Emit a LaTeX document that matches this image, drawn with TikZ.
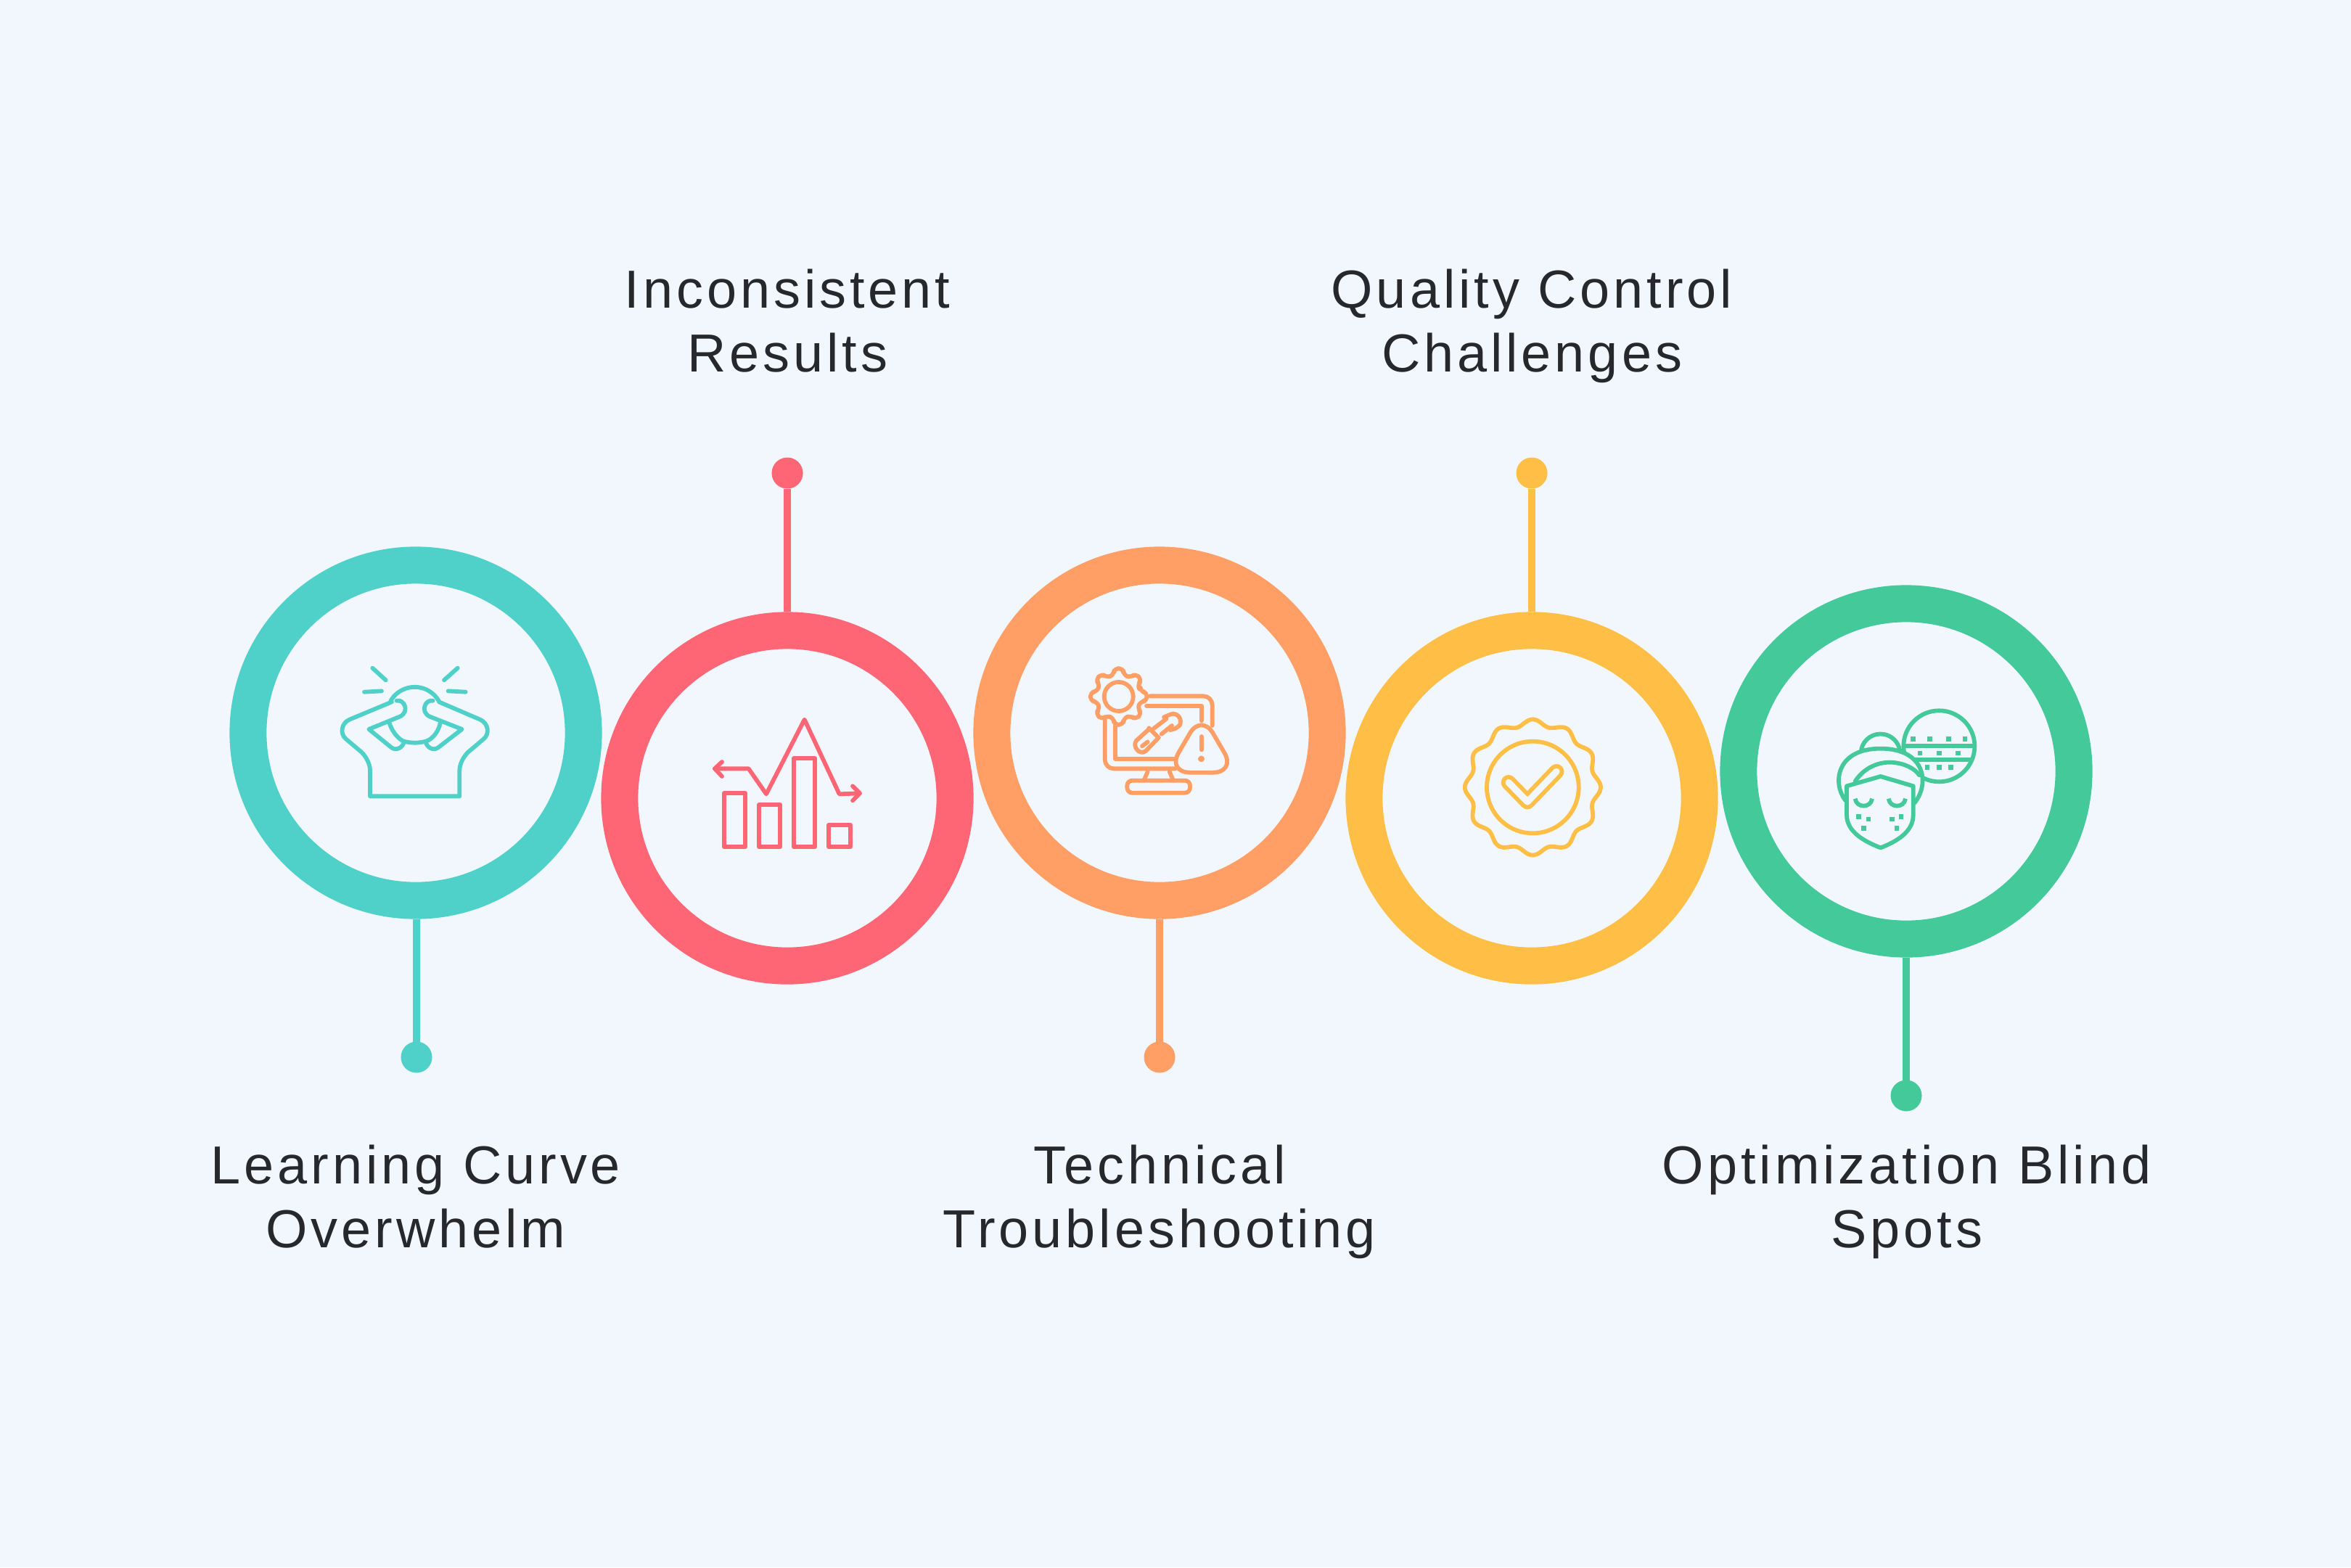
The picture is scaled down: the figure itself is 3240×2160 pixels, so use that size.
\documentclass[tikz,border=0pt]{standalone}
\usepackage{fontspec}
\setmainfont[LetterSpace=6.7]{Liberation Sans}
\definecolor{bgc}{HTML}{F2F7FE}
\definecolor{cteal}{HTML}{4FD1CA}
\definecolor{cred}{HTML}{FF6675}
\definecolor{corange}{HTML}{FF9F66}
\definecolor{cyellow}{HTML}{FFBE45}
\definecolor{cgreen}{HTML}{43C99A}
\definecolor{ctext}{HTML}{26282B}
\tikzset{
 ringnode/.style={circle,draw=#1,line width=14.5pt,minimum size=4.62cm,inner sep=0pt},
 dotnode/.style={circle,fill=#1,minimum size=0.43cm,inner sep=0pt,outer sep=0pt},
 stem/.style={draw=#1,line width=3pt},
 lbl/.style={align=center,text=ctext,font=\fontsize{21}{24.9}\selectfont},
 ico/.style={draw=#1,line width=1.65pt,line cap=round,line join=round},
 zoomed/.style={shift={#1},scale=1/3}
}
\begin{document}
\begin{tikzpicture}[x=0.01cm,y=-0.01cm]
\useasboundingbox[fill=bgc] (0,0) rectangle (3240,2160);
% rings
\node[ringnode=cteal] (r1) at (573,1010) {};
\node[ringnode=cred] (r2) at (1085,1100) {};
\node[ringnode=corange] (r3) at (1598,1010) {};
\node[ringnode=cyellow] (r4) at (2111,1100) {};
\node[ringnode=cgreen] (r5) at (2627,1063) {};
% dots
\node[dotnode=cteal] (d1) at (574,1457) {};
\node[dotnode=cred] (d2) at (1085,652) {};
\node[dotnode=corange] (d3) at (1598,1457) {};
\node[dotnode=cyellow] (d4) at (2111,652) {};
\node[dotnode=cgreen] (d5) at (2627,1510) {};
\draw[stem=cteal] (d1 |- r1.south) -- (d1);
\draw[stem=cred] (r2.north) -- (d2);
\draw[stem=corange] (r3.south) -- (d3);
\draw[stem=cyellow] (r4.north) -- (d4);
\draw[stem=cgreen] (r5.south) -- (d5);
% labels
\node[lbl] (t1) at (573,1658) {\strut Learning Curve\\\strut Overwhelm};
\node[lbl] (t2) at (1085,451) {\strut Inconsistent\\\strut Results};
\node[lbl] (t3) at (1598,1658) {\strut Technical\\\strut Troubleshooting};
\node[lbl] (t4) at (2111,451) {\strut Quality Control\\\strut Challenges};
\node[lbl] (t5) at (2628,1658) {\strut Optimization Blind\\\strut Spots};
% icon 1
\begin{scope}[zoomed={(440,880)}]
\draw[ico=cteal] (295,258) arc[start angle=-150,end angle=-30,radius=115];
\draw[ico=cteal] (290,350) .. controls (305,395) and (335,420) .. (350,425) .. controls (380,433) and (410,433) .. (440,425) .. controls (460,420) and (490,395) .. (500,350);
\draw[ico=cteal] (300,262) -- (125,335) .. controls (90,350) and (85,395) .. (110,415) -- (175,470) .. controls (195,490) and (210,520) .. (210,545) -- (210,652) -- (580,652) -- (580,545) .. controls (580,520) and (595,490) .. (615,470) -- (680,415) .. controls (705,395) and (700,350) .. (665,335) -- (495,262);
\draw[ico=cteal] (320,257) .. controls (350,250) and (375,300) .. (335,322) -- (205,375) -- (300,452) .. controls (320,465) and (345,450) .. (350,428);
\draw[ico=cteal] (470,257) .. controls (440,250) and (415,300) .. (455,322) -- (590,375) -- (490,452) .. controls (470,465) and (445,450) .. (440,428);
\draw[ico=cteal] (220,122) -- (275,172);
\draw[ico=cteal] (186,221) -- (258,217);
\draw[ico=cteal] (572,122) -- (516,172);
\draw[ico=cteal] (533,217) -- (605,221);
\end{scope}
% icon 2
\begin{scope}[zoomed={(960,960)}]
\draw[ico=cred] (75,298) -- (215,298) -- (288,403) -- (446,95) -- (590,403) -- (672,400);
\draw[ico=cred] (105,270) -- (75,298) -- (105,330);
\draw[ico=cred] (645,370) -- (675,400) -- (645,430);
\draw[ico=cred] (113,400) rectangle (202,622);
\draw[ico=cred] (258,448) rectangle (346,622);
\draw[ico=cred] (402,256) rectangle (490,622);
\draw[ico=cred] (547,530) rectangle (635,622);
\end{scope}
% icon 3
\begin{scope}[zoomed={(1480,900)}]
\begin{scope}[shift={(185,180)}]
\draw[ico=corange,rounded corners=1.6pt] (-13:92)
 \foreach \a in {0,45,...,315}{ -- ({\a-9}:118) -- ({\a+9}:118) -- ({\a+13}:92) -- ({\a+32}:92) } -- cycle;
\draw[ico=corange] (0,0) circle[radius=60];
\end{scope}
\draw[ico=corange,rounded corners=3.5pt] (315,178) -- (572,178) -- (572,300);
\draw[ico=corange] (300,218) -- (528,218) -- (528,280);
\draw[ico=corange,rounded corners=3.5pt] (128,275) -- (128,478) -- (420,478);
\draw[ico=corange] (172,300) -- (172,438) -- (415,438);
\draw[ico=corange] (305,490) -- (290,525);
\draw[ico=corange] (395,490) -- (410,525);
\draw[ico=corange,rounded corners=2pt] (220,527) rectangle (480,578);
\draw[ico=corange,rounded corners=9pt] (527,250) -- (385,494) -- (670,494) -- cycle;
\draw[ico=corange] (527,345) -- (527,400);
\draw[ico=corange,line width=2.4pt] (527,437) -- (527,438);
\draw[ico=corange] (310,310) -- (350,350);
\draw[ico=corange] (310,315) -- (258,362) .. controls (240,385) and (270,425) .. (297,405) -- (350,350);
\draw[ico=corange] (330,312) -- (382,272);
\draw[ico=corange] (362,335) -- (405,300);
\draw[ico=corange,rounded corners=2pt] (372,265) -- (420,245) -- (448,282) -- (428,312) -- (398,318);
\draw[ico=corange] (282,385) -- (305,367);
\end{scope}
% icon 4
\begin{scope}[zoomed={(2000,970)}]
\draw[ico=cyellow] plot[smooth cycle,samples=96,domain=0:356.25,variable=\t] ({337+(268+13*cos(12*\t))*cos(\t)},{345+(268+13*cos(12*\t))*sin(\t)});
\draw[ico=cyellow] (337,345) circle[radius=190];
\draw[draw=cyellow,line width=5.9pt,line cap=round,line join=round] (237,325) -- (315,405) -- (435,280);
\draw[draw=bgc,line width=2.6pt,line cap=round,line join=round] (237,325) -- (315,405) -- (435,280);
\end{scope}
% icon 5
\begin{scope}[zoomed={(2510,960)}]
\draw[ico=cgreen] (487,205) circle[radius=147];
\draw[ico=cgreen] (345,205) -- (630,205);
\draw[ico=cgreen] (355,262) -- (615,262);
\foreach \x/\y in {380/176,448/176,526/176,594/176,408/234,487/234,565/234,438/292,487/292,536/292}
 \fill[cgreen] (\x-10,\y-10) rectangle (\x+10,\y+10);
\filldraw[ico=cgreen,fill=bgc] (100,430) .. controls (45,360) and (60,215) .. (245,215) .. controls (430,215) and (450,360) .. (385,440);
\draw[ico=cgreen] (165,220) arc[start angle=-169,end angle=-11,radius=81];
\draw[ico=cgreen] (140,350) .. controls (180,290) and (240,270) .. (290,272) .. controls (340,275) and (385,295) .. (405,325);
\filldraw[ico=cgreen,fill=bgc] (105,370) -- (245,330) -- (380,370) -- (380,490) .. controls (380,560) and (310,600) .. (245,625) .. controls (180,600) and (105,560) .. (105,490) -- cycle;
\draw[ico=cgreen,line cap=butt] (140,422) .. controls (145,462) and (205,462) .. (210,422);
\draw[ico=cgreen,line cap=butt] (278,422) .. controls (283,462) and (343,462) .. (348,422);
\foreach \x/\y in {155/497,195/507,175/545,292/507,330/497,312/545}
 \fill[cgreen] (\x-10,\y-10) rectangle (\x+10,\y+10);
\end{scope}
\end{tikzpicture}
\end{document}
